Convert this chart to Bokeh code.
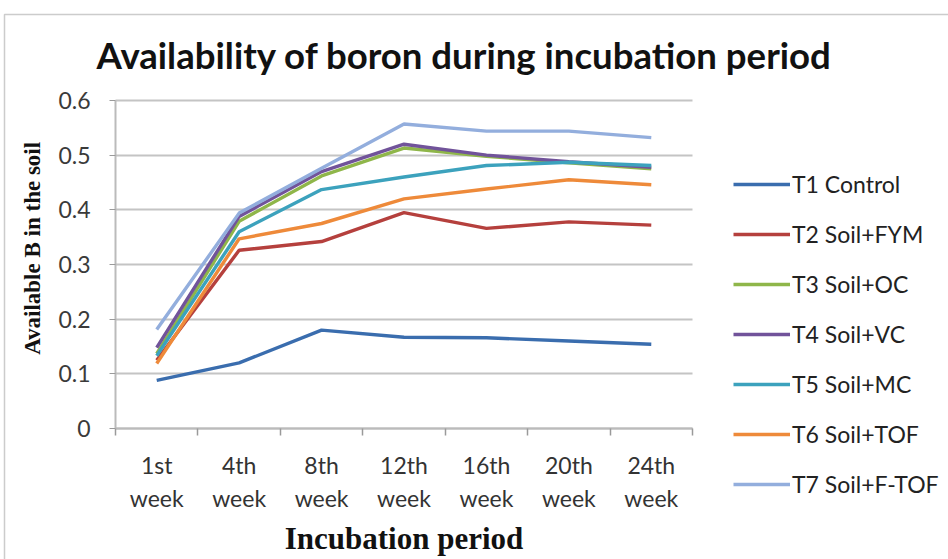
import math
from bokeh.plotting import figure
from bokeh.models import (FixedTicker, Legend, LegendItem, ColumnDataSource, Label,
                          BoxAnnotation, Grid)
from bokeh.embed import file_html
from bokeh.resources import INLINE

weeks = ["1st\nweek", "4th\nweek", "8th\nweek", "12th\nweek", "16th\nweek", "20th\nweek", "24th\nweek"]
series_names = ["T1 Control", "T2 Soil+FYM", "T3 Soil+OC", "T4 Soil+VC",
                "T5 Soil+MC", "T6 Soil+TOF", "T7 Soil+F-TOF"]
t1 = [0.088, 0.120, 0.180, 0.167, 0.166, 0.160, 0.154]
t2 = [0.125, 0.326, 0.342, 0.395, 0.366, 0.378, 0.372]
t3 = [0.137, 0.379, 0.462, 0.513, 0.498, 0.486, 0.475]
t4 = [0.148, 0.388, 0.470, 0.520, 0.500, 0.488, 0.478]
t5 = [0.133, 0.360, 0.437, 0.460, 0.481, 0.487, 0.481]
t6 = [0.119, 0.347, 0.375, 0.420, 0.438, 0.455, 0.446]
t7 = [0.181, 0.394, 0.476, 0.557, 0.544, 0.544, 0.532]
series = [t1, t2, t3, t4, t5, t6, t7]
colors = ["#3A6DAE", "#B5403D", "#8FB64A", "#71539A", "#3CA2BD", "#EE8A3A", "#93AEDD"]
y_ticks = [0, 0.1, 0.2, 0.3, 0.4, 0.5, 0.6]
y_labels = ["0", "0.1", "0.2", "0.3", "0.4", "0.5", "0.6"]
y_max = 0.6

# ---- layout geometry (pixels) ----
W, H = 948, 559
PL, PR, PT, PB = 115, 692, 100, 428   # plot area inside the canvas
n = len(weeks)
x_per_px = n / (PR - PL)
y_per_px = y_max / (PB - PT)
x_range = (-PL * x_per_px, (W - PL) * x_per_px)
y_range = (-(H - PB) * y_per_px, PB * y_per_px)

p = figure(width=W, height=H, output_backend="svg", toolbar_location=None,
           x_range=x_range, y_range=y_range,
           min_border=0, min_border_left=0, min_border_right=0,
           min_border_top=0, min_border_bottom=0)
p.outline_line_color = None
p.background_fill_color = "white"
p.border_fill_color = "white"

xs = [i + 0.5 for i in range(n)]
renderers = []
for name, vals, c in zip(series_names, series, colors):
    src = ColumnDataSource(dict(x=xs, y=vals))
    r = p.line("x", "y", source=src, line_color=c, line_width=3.4)
    renderers.append((name, r))

# x axis (fixed at y = 0)
xa = p.xaxis[0]
xa.fixed_location = 0
xa.bounds = (0, n)
xa.ticker = FixedTicker(ticks=xs, minor_ticks=list(range(n + 1)))
xa.major_label_overrides = {x: w for x, w in zip(xs, weeks)}
xa.major_tick_line_color = None
xa.minor_tick_line_color = "#9A9A9A"
xa.minor_tick_out = 7
xa.minor_tick_in = 0
xa.minor_tick_line_width = 1.5
xa.axis_line_color = "#BBBBBB"
xa.axis_line_width = 2
xa.major_label_text_font = "Lato"
xa.major_label_text_font_size = "23px"
xa.major_label_text_color = "#333333"
xa.major_label_standoff = 15
xa.axis_label = "Incubation period"
xa.axis_label_text_font = "Liberation Serif"
xa.axis_label_text_font_style = "bold"
xa.axis_label_text_font_size = "31px"
xa.axis_label_text_color = "#111111"
xa.axis_label_standoff = 6
p.xgrid.grid_line_color = None

# y axis (fixed at x = 0)
ya = p.yaxis[0]
ya.fixed_location = 0
ya.bounds = (0, y_max)
ya.ticker = FixedTicker(ticks=y_ticks)
ya.major_label_overrides = {t: l for t, l in zip(y_ticks, y_labels)}
ya.axis_line_color = "#BBBBBB"
ya.axis_line_width = 2
ya.major_tick_line_color = "#9A9A9A"
ya.major_tick_out = 6
ya.major_tick_in = 0
ya.minor_tick_line_color = None
ya.major_label_text_font = "Lato"
ya.major_label_text_font_size = "23px"
ya.major_label_text_color = "#3A3A3A"
ya.major_label_standoff = 19

# horizontal grid limited to the plot area
grid = p.ygrid[0]
grid.grid_line_color = "#C4C4C4"
grid.grid_line_width = 2
if "cross_bounds" in Grid.properties():
    grid.cross_bounds = (0, n)
    grid.bounds = (0, y_max)
else:
    grid.grid_line_color = None
    p.segment(x0=[0] * len(y_ticks), x1=[n] * len(y_ticks), y0=y_ticks, y1=y_ticks,
              line_color="#C4C4C4", line_width=2, level="underlay")

# y axis title
ylab = Label(x=32, y=H - 245, x_units="screen", y_units="screen",
             text="Available B  in the soil", angle=math.pi / 2,
             text_font="Liberation Serif", text_font_style="bold", text_font_size="23px",
             text_color="#111111", text_align="center", text_baseline="middle")
p.add_layout(ylab)

# chart title
title = Label(x=464, y=H - 54, x_units="screen", y_units="screen",
              text="Availability of boron during incubation period",
              text_font="Lato", text_font_style="bold", text_font_size="36.6px",
              text_color="#111111", text_align="center", text_baseline="alphabetic")
p.add_layout(title)

# outer chart border (top and left edges visible)
border = BoxAnnotation(left=4, right=W + 20, top=H - 14, bottom=-20,
                       left_units="screen", right_units="screen",
                       top_units="screen", bottom_units="screen",
                       fill_alpha=0, line_color="#555555", line_width=1.5)
p.add_layout(border)

legend = Legend(items=[LegendItem(label=nm, renderers=[r]) for nm, r in renderers],
                location=(733, H - 498), orientation="vertical")
legend.border_line_color = None
legend.background_fill_alpha = 0
legend.padding = 0
legend.margin = 0
legend.glyph_width = 57
legend.glyph_height = 28
legend.label_height = 28
legend.spacing = 22
legend.label_standoff = 2
legend.label_text_font = "Lato"
legend.label_text_font_size = "23px"
legend.label_text_color = "#222222"
legend.label_text_baseline = "middle"
p.add_layout(legend, "center")

open("out.html", "w").write(file_html(p, INLINE))
